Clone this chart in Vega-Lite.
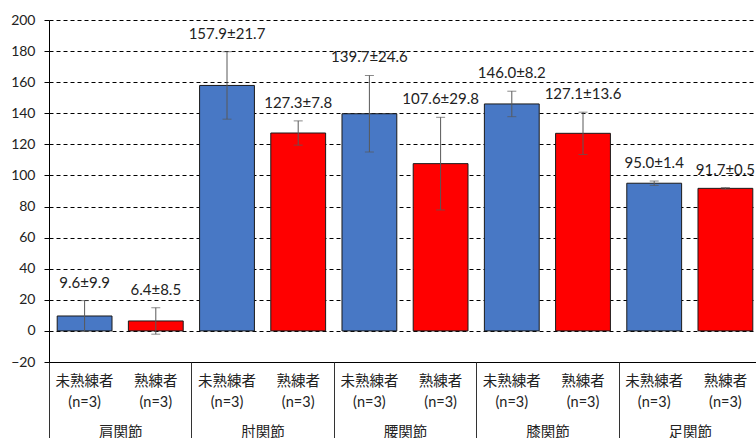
{
  "$schema": "https://vega.github.io/schema/vega-lite/v6.json",
  "width": 707,
  "height": 342,
  "autosize": "none",
  "padding": {"left": 49, "top": 20, "right": 0, "bottom": 76},
  "background": "white",
  "config": {
    "font": "Lato, Noto Sans CJK JP",
    "view": {"stroke": null}
  },
  "data": {
    "values": [
      {"joint": "肩関節", "group": "未熟練者", "mean": 9.6, "sd": 9.9},
      {"joint": "肩関節", "group": "熟練者", "mean": 6.4, "sd": 8.5},
      {"joint": "肘関節", "group": "未熟練者", "mean": 157.9, "sd": 21.7},
      {"joint": "肘関節", "group": "熟練者", "mean": 127.3, "sd": 7.8},
      {"joint": "腰関節", "group": "未熟練者", "mean": 139.7, "sd": 24.6},
      {"joint": "腰関節", "group": "熟練者", "mean": 107.6, "sd": 29.8},
      {"joint": "膝関節", "group": "未熟練者", "mean": 146.0, "sd": 8.2},
      {"joint": "膝関節", "group": "熟練者", "mean": 127.1, "sd": 13.6},
      {"joint": "足関節", "group": "未熟練者", "mean": 95.0, "sd": 1.4},
      {"joint": "足関節", "group": "熟練者", "mean": 91.7, "sd": 0.5}
    ]
  },
  "transform": [
    {"calculate": "datum.joint + '|' + datum.group", "as": "key"},
    {"calculate": "datum.mean - datum.sd", "as": "lo"},
    {"calculate": "datum.mean + datum.sd", "as": "hi"},
    {"calculate": "format(datum.mean, '.1f') + '±' + format(datum.sd, '.1f')", "as": "label"}
  ],
  "layer": [
    {
      "encoding": {
        "x": {
          "field": "key",
          "type": "nominal",
          "sort": null,
          "title": null,
          "scale": {"range": [0, 712], "paddingInner": 0.23, "paddingOuter": 0.115},
          "axis": {
            "labelExpr": "[split(datum.value, '|')[1], '(n=3)']",
            "labelAngle": 0,
            "labelFontSize": 14.5,
            "labelColor": "#222222",
            "labelBaseline": "top",
            "labelLineHeight": 21,
            "labelPadding": 12,
            "ticks": false,
            "domainColor": "#000000",
            "domainWidth": 1,
            "grid": false
          }
        },
        "y": {
          "type": "quantitative",
          "scale": {"domain": [-20, 200], "nice": false, "zero": false},
          "axis": {
            "title": null,
            "values": [-20, 0, 20, 40, 60, 80, 100, 120, 140, 160, 180, 200],
            "labelFontSize": 14,
            "labelColor": "#222222",
            "labelPadding": 9,
            "tickSize": 5,
            "tickColor": "#000000",
            "domainColor": "#000000",
            "grid": true,
            "gridColor": "#000000",
            "gridDash": [4, 3],
            "gridWidth": 1,
            "gridOpacity": 1
          }
        }
      },
      "layer": [
        {
          "mark": {"type": "bar", "stroke": "#1a1a1a", "strokeWidth": 1},
          "encoding": {
            "y": {"field": "mean"},
            "color": {
              "field": "group",
              "type": "nominal",
              "scale": {"domain": ["未熟練者", "熟練者"], "range": ["#4878C5", "#FF0000"]},
              "legend": null
            }
          }
        },
        {
          "mark": {"type": "rule", "color": "#595959", "strokeWidth": 1},
          "encoding": {"y": {"field": "lo"}, "y2": {"field": "hi"}}
        },
        {
          "mark": {"type": "tick", "color": "#595959", "thickness": 1, "size": 9, "orient": "horizontal"},
          "encoding": {"y": {"field": "lo"}}
        },
        {
          "mark": {"type": "tick", "color": "#595959", "thickness": 1, "size": 9, "orient": "horizontal"},
          "encoding": {"y": {"field": "hi"}}
        },
        {
          "mark": {"type": "text", "fontSize": 15, "color": "#222222", "baseline": "middle", "dy": -18},
          "encoding": {"y": {"field": "hi"}, "text": {"field": "label"}}
        }
      ]
    },
    {
      "mark": {"type": "rule", "opacity": 0},
      "encoding": {
        "x": {
          "field": "joint",
          "type": "nominal",
          "sort": null,
          "title": null,
          "scale": {"range": [0, 712], "paddingInner": 0, "paddingOuter": 0},
          "axis": {
            "orient": "bottom",
            "domain": false,
            "grid": false,
            "ticks": true,
            "tickBand": "extent",
            "tickSize": 76,
            "tickColor": "#333333",
            "tickWidth": 1,
            "labelAngle": 0,
            "labelFontSize": 14.5,
            "labelColor": "#222222",
            "labelBaseline": "middle",
            "labelPadding": -6
          }
        }
      }
    }
  ],
  "resolve": {"scale": {"x": "independent"}}
}
